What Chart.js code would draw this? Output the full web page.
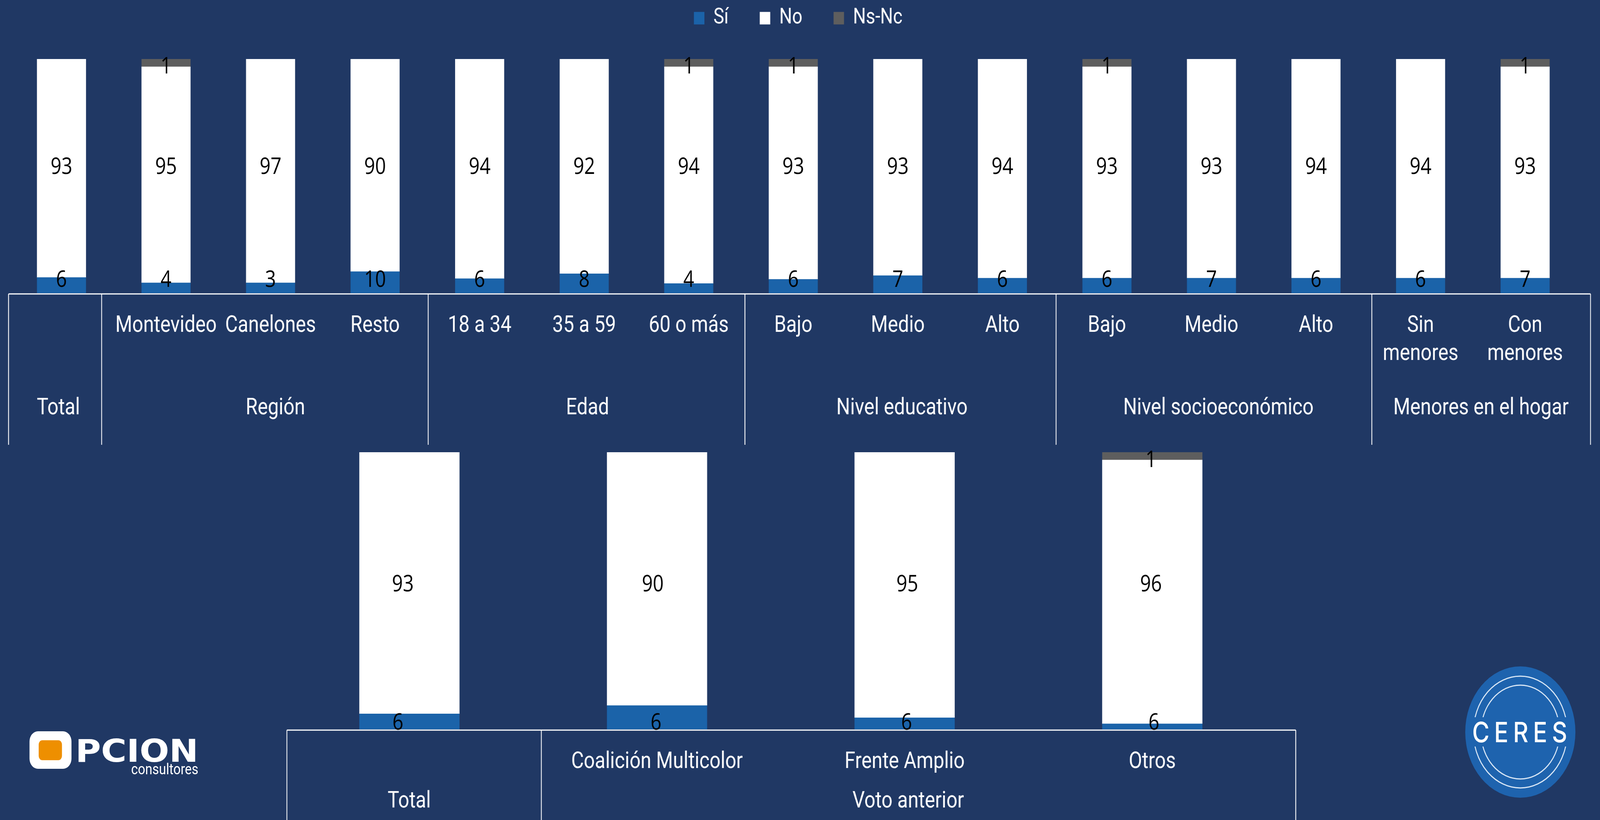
<!DOCTYPE html>
<html>
<head>
<meta charset="utf-8">
<title>Sí / No / Ns-Nc</title>
<script src="https://cdn.jsdelivr.net/npm/chart.js@4/dist/chart.umd.min.js"></script>
<style>
  html, body { margin: 0; padding: 0; width: 100%; height: 100%; overflow: hidden; background: #203864; }
  #stage { position: absolute; left: 0; top: 0; width: 4880px; height: 2098px; transform-origin: 0 0; }
  canvas, svg { position: absolute; left: 0; }
  #topChart { top: 0; }
  #bottomChart { top: 1145px; }
  #logos { top: 0; }
</style>
</head>
<body>
<div id="stage">
<canvas id="topChart" width="4880" height="1145"></canvas>
<canvas id="bottomChart" width="4880" height="953"></canvas>

<svg id="logos" width="4880" height="2098" xmlns="http://www.w3.org/2000/svg">
  <defs>
    <clipPath id="ringGap">
      <rect x="4460" y="1700" width="360" height="135"/>
      <rect x="4460" y="1910" width="360" height="135"/>
    </clipPath>
  </defs>
  <!-- Opcion consultores -->
  <rect x="90" y="1871" width="128" height="96" rx="26" fill="#fff"/>
  <rect x="118" y="1894" width="71" height="51" rx="11" fill="#ee8f00"/>
  <text x="230" y="1949" font-family="DejaVu Sans" font-weight="700" font-size="80" fill="#fff" textLength="375" lengthAdjust="spacingAndGlyphs">PCION</text>
  <text x="400" y="1981" font-family="Roboto" font-size="38" fill="#fff" textLength="205" lengthAdjust="spacingAndGlyphs">consultores</text>
  <!-- Ceres -->
  <circle cx="4637" cy="1873" r="168" fill="#1e63ae"/>
  <g clip-path="url(#ringGap)" fill="none" stroke="#d8e6f5" stroke-width="3">
    <circle cx="4637" cy="1873" r="143"/>
    <circle cx="4637" cy="1873" r="120"/>
  </g>
  <text x="4490" y="1899" font-family="Inter" font-weight="500" font-size="72" fill="#fff" textLength="290">CERES</text>
</svg>
</div>

<script>
// The window can be narrower than the 4880 layout, so fit the stage to it
document.getElementById("stage").style.transform =
  `scale(${window.innerWidth / 4880}, ${window.innerHeight / 2098})`;

// Top chart: categories and sub-axis labels
const topCategories = ["", "Montevideo", "Canelones", "Resto", "18 a 34", "35 a 59", "60 o más",
  "Bajo", "Medio", "Alto", "Bajo", "Medio", "Alto", ["Sin", "menores"], ["Con", "menores"]];
const topGroups = ["Total", "Región", "Edad", "Nivel educativo", "Nivel socioeconómico", "Menores en el hogar"];

// Segment sizes as drawn (share of the bar)
const topSi = [6.7, 4.4, 4.4, 9.2, 6.2, 8.3, 4.1, 5.9, 7.5, 6.4, 6.4, 6.4, 6.4, 6.4, 6.4];
const topNo = [93.3, 92.3, 95.6, 90.8, 93.8, 91.7, 92.6, 90.8, 92.5, 93.6, 90.3, 93.6, 93.6, 93.6, 90.3];
const topNs = [0, 3.3, 0, 0, 0, 0, 3.3, 3.3, 0, 0, 3.3, 0, 0, 0, 3.3];

// Numbers printed on the bars
const topSiLabels = [6, 4, 3, 10, 6, 8, 4, 6, 7, 6, 6, 7, 6, 6, 7];
const topNoLabels = [93, 95, 97, 90, 94, 92, 94, 93, 93, 94, 93, 93, 94, 94, 93];
const topNsLabels = [0, 1, 0, 0, 0, 0, 1, 1, 0, 0, 1, 0, 0, 0, 1];

// Bottom chart
const bottomCategories = ["", "Coalición Multicolor", "Frente Amplio", "Otros"];
const bottomGroups = ["Total", "Voto anterior"];
const bottomSi = [5.6, 8.6, 4.2, 2.0];
const bottomNo = [94.4, 91.4, 95.8, 95.2];
const bottomNs = [0, 0, 0, 2.8];
const bottomSiLabels = [6, 6, 6, 6];
const bottomNoLabels = [93, 90, 95, 96];
const bottomNsLabels = [0, 0, 0, 1];

const seriesNames = ["Sí", "No", "Ns-Nc"];
const seriesColors = ["#1b63a9", "#ffffff", "#5e5e5e"];

const axisFont = { family: "Roboto", size: 59, lineHeight: 72 / 59 };

// Printed numbers sit at fixed heights, not in the middle of the segments
const valueLabels = {
  id: "valueLabels",
  afterDraw(chart, args, opts) {
    const ctx = chart.ctx;
    ctx.save();
    ctx.font = "58px 'Open Sans'";
    ctx.fillStyle = "#000";
    ctx.textAlign = "center";
    ctx.textBaseline = "middle";
    chart.data.datasets.forEach((ds, i) => {
      chart.getDatasetMeta(i).data.forEach((bar, j) => {
        const text = opts.printed[i][j];
        if (!text) return;
        const y = opts.fromTop[i] != null
          ? chart.chartArea.top + opts.fromTop[i]
          : chart.chartArea.bottom - opts.fromBottom;
        const shift = opts.shift ? opts.shift[i][j] : 0;
        ctx.fillText(text, bar.x + shift, y);
      });
    });
    ctx.restore();
  },
};

// Excel-like box under the bars with the group names
const axisBox = {
  id: "axisBox",
  afterDatasetsDraw(chart, args, opts) {
    const ctx = chart.ctx;
    const y0 = chart.chartArea.bottom + 2;
    ctx.save();
    ctx.strokeStyle = "#fff";
    ctx.lineWidth = 3;
    ctx.beginPath();
    ctx.moveTo(opts.edges[0], y0);
    ctx.lineTo(opts.edges[opts.edges.length - 1], y0);
    ctx.stroke();
    ctx.lineWidth = 2.5;
    opts.edges.forEach((x) => {
      ctx.beginPath();
      ctx.moveTo(x, y0);
      ctx.lineTo(x, opts.boxBottom);
      ctx.stroke();
    });
    ctx.font = "59px Roboto";
    ctx.fillStyle = "#fff";
    ctx.textAlign = "center";
    ctx.textBaseline = "alphabetic";
    opts.names.forEach((name, i) => ctx.fillText(name, opts.centers[i], opts.baseline));
    ctx.restore();
  },
};

// Fixed legend band above the bars
const legendBand = {
  id: "legendBand",
  beforeInit(chart) {
    const fit = chart.legend.fit;
    chart.legend.fit = function () {
      fit.call(this);
      this.height = 227;
    };
  },
  afterLayout(chart) {
    chart.legend.left += 15;
    chart.legend.right += 15;
  },
};

function makeDatasets(si, no, ns) {
  return [si, no, ns].map((values, i) => ({
    label: seriesNames[i],
    data: values,
    backgroundColor: seriesColors[i],
    borderWidth: 0,
  }));
}

function baseOptions(axisHeight, barWidth) {
  return {
    responsive: false,
    animation: false,
    devicePixelRatio: 1,
    datasets: { bar: { barThickness: barWidth } },
    scales: {
      x: {
        stacked: true,
        grid: { display: false },
        border: { display: false },
        ticks: { color: "#fff", font: axisFont, padding: 40, autoSkip: false, maxRotation: 0 },
        afterFit(scale) { scale.height = axisHeight; },
      },
      y: { stacked: true, min: 0, max: 100, display: false },
    },
  };
}

new Chart(document.getElementById("topChart"), {
  type: "bar",
  data: { labels: topCategories, datasets: makeDatasets(topSi, topNo, topNs) },
  plugins: [legendBand, axisBox, valueLabels],
  options: {
    ...baseOptions(395, 149),
    layout: { padding: { left: 28, right: 69, top: -76 } },
    plugins: {
      tooltip: { enabled: false },
      legend: {
        labels: { color: "#fff", font: { family: "Roboto", size: 55 }, boxWidth: 32, boxHeight: 32, padding: 95 },
      },
      valueLabels: {
        printed: [topSiLabels, topNoLabels, topNsLabels],
        fromTop: [null, 277, 20],
        fromBottom: 33,
      },
      axisBox: {
        edges: [26, 310, 1306, 2272, 3221, 4184, 4851],
        names: topGroups,
        centers: [178, 840, 1792, 2751, 3716, 4517],
        baseline: 1060,
        boxBottom: 1138,
      },
    },
  },
});

new Chart(document.getElementById("bottomChart"), {
  type: "bar",
  data: { labels: bottomCategories, datasets: makeDatasets(bottomSi, bottomNo, bottomNs) },
  plugins: [axisBox, valueLabels],
  options: {
    ...baseOptions(232, 305),
    layout: { padding: { left: 871, right: 988, top: 12 } },
    plugins: {
      tooltip: { enabled: false },
      legend: { display: false },
      valueLabels: {
        printed: [bottomSiLabels, bottomNoLabels, bottomNsLabels],
        fromTop: [null, 339, 21],
        fromBottom: 16,
        shift: [[-35, -3, 6, 5], [-20, -13, 8, -4], [0, 0, 0, -4]],
      },
      axisBox: {
        edges: [875, 1651, 3952],
        names: bottomGroups,
        centers: [1248, 2770],
        baseline: 921,
        boxBottom: 953,
      },
    },
  },
});
</script>
</body>
</html>
